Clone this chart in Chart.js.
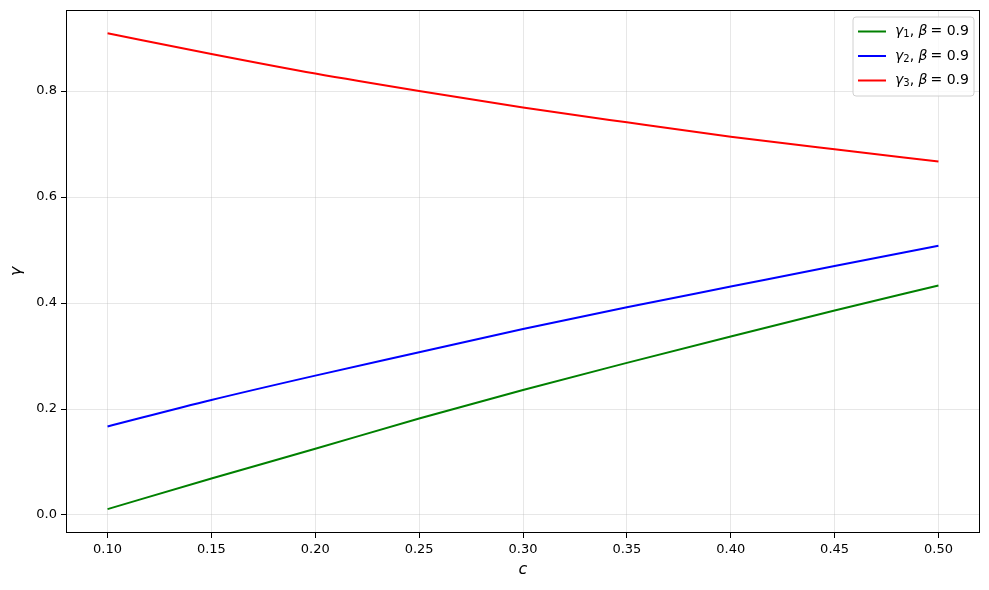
<!DOCTYPE html>
<html><head><meta charset="utf-8">
<script src="https://cdn.jsdelivr.net/npm/chart.js@4.4.0/dist/chart.umd.min.js"></script>
<style>html,body{margin:0;padding:0;background:#fff}#wrap{width:989px;height:590px}</style>
</head><body><div id="wrap"><canvas id="c" width="989" height="590"></canvas></div>
<script>
const cValues = [0.10, 0.15, 0.20, 0.25, 0.30, 0.35, 0.40, 0.45, 0.50];
const gamma1 = [0.011, 0.069, 0.125, 0.182, 0.236, 0.287, 0.337, 0.386, 0.433];
const gamma2 = [0.167, 0.217, 0.263, 0.307, 0.351, 0.392, 0.431, 0.470, 0.508];
const gamma3 = [0.909, 0.870, 0.833, 0.800, 0.769, 0.741, 0.714, 0.690, 0.667];
const xTicks = [0.10, 0.15, 0.20, 0.25, 0.30, 0.35, 0.40, 0.45, 0.50];
const yTicks = [0.0, 0.2, 0.4, 0.6, 0.8];
const seriesNames = [["γ","1"],["γ","2"],["γ","3"]];
const seriesColors = ["#008000", "#0000ff", "#ff0000"];

const FONT = "'DejaVu Sans', sans-serif";
const toPts = arr => arr.map((v, i) => ({x: cValues[i], y: v}));

const framePlugin = {
  id: 'frame',
  afterDatasetsDraw(chart) {
    const ctx = chart.ctx, a = chart.chartArea;
    ctx.save();
    ctx.strokeStyle = '#000'; ctx.lineWidth = 1;
    ctx.strokeRect(Math.round(a.left) + 0.5, Math.round(a.top) + 0.5, Math.round(a.right - a.left) - 1, Math.round(a.bottom - a.top) - 1);
    ctx.fillStyle = '#000';
    ctx.font = "italic 16px " + FONT;
    ctx.textAlign = 'center'; ctx.textBaseline = 'middle';
    ctx.fillText('c', (a.left + a.right) / 2, 570);
    ctx.translate(17, (a.top + a.bottom) / 2);
    ctx.rotate(-Math.PI / 2);
    ctx.fillText('γ', 0, 0);
    ctx.restore();

    ctx.save();
    const bx = 853, by = 17, bw = 121, bh = 79, r = 3;
    ctx.beginPath();
    ctx.moveTo(bx + r, by); ctx.lineTo(bx + bw - r, by); ctx.quadraticCurveTo(bx + bw, by, bx + bw, by + r);
    ctx.lineTo(bx + bw, by + bh - r); ctx.quadraticCurveTo(bx + bw, by + bh, bx + bw - r, by + bh);
    ctx.lineTo(bx + r, by + bh); ctx.quadraticCurveTo(bx, by + bh, bx, by + bh - r);
    ctx.lineTo(bx, by + r); ctx.quadraticCurveTo(bx, by, bx + r, by);
    ctx.closePath();
    ctx.fillStyle = 'rgba(255,255,255,0.8)'; ctx.fill();
    ctx.strokeStyle = '#d0d0d0'; ctx.lineWidth = 1; ctx.stroke();
    const rows = [31.5, 56, 80.5];
    chart.data.datasets.forEach((ds, i) => {
      const y = rows[i];
      ctx.strokeStyle = ds.borderColor; ctx.lineWidth = 2;
      ctx.beginPath(); ctx.moveTo(858, y); ctx.lineTo(886, y); ctx.stroke();
      ctx.fillStyle = '#000'; ctx.textBaseline = 'middle'; ctx.textAlign = 'left';
      let x = 895;
      ctx.font = "italic 14px " + FONT;
      ctx.fillText(seriesNames[i][0], x, y); x += ctx.measureText(seriesNames[i][0]).width;
      ctx.font = "10px " + FONT;
      ctx.fillText(seriesNames[i][1], x, y + 3); x += ctx.measureText(seriesNames[i][1]).width;
      ctx.font = "14px " + FONT;
      ctx.fillText(', ', x, y); x += ctx.measureText(', ').width;
      ctx.font = "italic 14px " + FONT;
      ctx.fillText('β', x, y); x += ctx.measureText('β').width + 3;
      ctx.font = "14px " + FONT;
      ctx.fillText('= 0.9', x, y);
    });
    ctx.restore();
  }
};

new Chart(document.getElementById('c'), {
  type: 'line',
  data: {
    datasets: [
      {label: 'γ1, β = 0.9', data: toPts(gamma1), borderColor: seriesColors[0]},
      {label: 'γ2, β = 0.9', data: toPts(gamma2), borderColor: seriesColors[1]},
      {label: 'γ3, β = 0.9', data: toPts(gamma3), borderColor: seriesColors[2]}
    ].map(d => Object.assign(d, {borderWidth: 2, pointRadius: 0, fill: false, tension: 0.3, cubicInterpolationMode: 'monotone'}))
  },
  options: {
    responsive: false, animation: false, devicePixelRatio: 1,
    layout: {padding: {top: 10, right: 9, left: 0, bottom: 0}},
    plugins: {legend: {display: false}, tooltip: {enabled: false}},
    scales: {
      x: {
        type: 'linear', min: 0.08, max: 0.52,
        afterBuildTicks: s => { s.ticks = xTicks.map(v => ({value: v})); },
        afterFit: s => { s.height = 57; s.paddingLeft = 0; s.paddingRight = 0; },
        border: {display: false},
        grid: {color: 'rgba(176,176,176,0.3)', tickColor: '#000', tickLength: 5, lineWidth: 1},
        ticks: {color: '#000', font: {family: FONT, size: 13}, padding: 4, maxRotation: 0,
          callback: v => v.toFixed(2)}
      },
      y: {
        type: 'linear', min: -0.034, max: 0.953,
        afterBuildTicks: s => { s.ticks = yTicks.map(v => ({value: v})); },
        afterFit: s => { s.width = 66; s.paddingTop = 0; s.paddingBottom = 0; },
        border: {display: false},
        grid: {color: 'rgba(176,176,176,0.3)', tickColor: '#000', tickLength: 5, lineWidth: 1},
        ticks: {color: '#000', font: {family: FONT, size: 13}, padding: 4,
          callback: v => v.toFixed(1)}
      }
    }
  },
  plugins: [framePlugin]
});
</script></body></html>
